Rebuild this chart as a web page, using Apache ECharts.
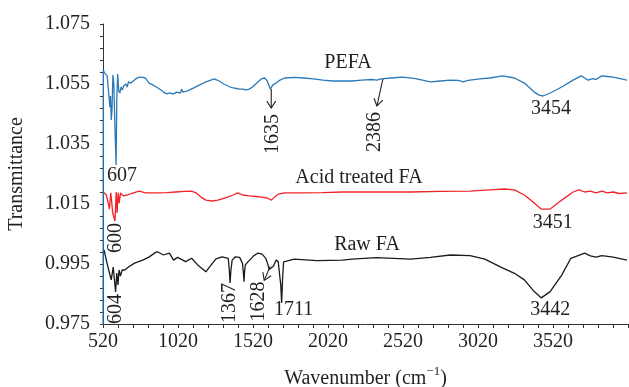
<!DOCTYPE html>
<html>
<head>
<meta charset="utf-8">
<script src="https://cdn.jsdelivr.net/npm/echarts@6/dist/echarts.min.js"></script>
<style>
  html, body { margin: 0; padding: 0; background: #fff; }
  #chart { width: 629px; height: 387px; }
</style>
</head>
<body>
<div id="chart"></div>
<script>
// FTIR spectra: wavenumber (cm^-1) and transmittance for each sample
const pefaWavenumber = [520,522,530,540,548,556,562,566,570,575,580,586,592,600,607,612,618,625,632,641,649,657,673,681,690,706,722,738,762,778,803,827,851,875,883,907,923,947,963,988,1012,1036,1044,1052,1084,1125,1165,1206,1262,1294,1326,1367,1388,1410,1431,1452,1474,1495,1516,1538,1559,1580,1598,1615,1628,1635,1653,1674,1700,1730,1795,1859,1923,1987,2051,2115,2180,2244,2309,2347,2373,2386,2439,2518,2604,2703,2769,2835,2888,2921,2954,3033,3099,3184,3263,3329,3395,3428,3454,3501,3578,3654,3708,3731,3754,3784,3807,3845,3883,3922,3967,4013];
const pefaTransmittance = [0.970,1.0597,1.0587,1.0593,1.0577,1.0530,1.0497,1.0473,1.0510,1.0430,1.0463,1.0580,1.0550,1.0400,1.0280,1.0500,1.0583,1.0527,1.0520,1.0540,1.0530,1.0543,1.0550,1.0540,1.0557,1.0553,1.0560,1.0567,1.0573,1.0573,1.0570,1.0553,1.0547,1.0540,1.0543,1.0530,1.0523,1.0517,1.0520,1.0517,1.0523,1.0520,1.0533,1.0523,1.0527,1.0537,1.0547,1.0557,1.0567,1.0560,1.0550,1.0540,1.0537,1.0535,1.0533,1.0533,1.0530,1.0533,1.0540,1.0550,1.0560,1.0568,1.0570,1.0560,1.0543,1.0533,1.0547,1.0553,1.0563,1.0570,1.0572,1.0570,1.0567,1.0563,1.0560,1.0560,1.0560,1.0563,1.0565,1.0563,1.0567,1.0570,1.0570,1.0573,1.0568,1.0557,1.0560,1.0563,1.0562,1.0557,1.0562,1.0567,1.0570,1.0577,1.0570,1.0553,1.0523,1.0513,1.0510,1.0520,1.0540,1.0563,1.0577,1.0570,1.0563,1.0568,1.0565,1.0577,1.0575,1.0573,1.0568,1.0563];

const acidWavenumber = [520,530,542,552,563,572,585,600,608,614,621,628,637,655,681,722,762,803,856,883,947,1004,1061,1109,1141,1173,1206,1246,1286,1351,1388,1418,1452,1495,1538,1580,1615,1643,1664,1690,1730,1859,1987,2115,2244,2373,2571,2769,2967,3099,3197,3263,3329,3395,3441,3451,3501,3578,3654,3693,3731,3769,3807,3845,3883,3922,3960,4013];
const acidTransmittance = [1.0191,1.0187,1.0180,1.0160,1.0133,1.0187,1.0120,1.0093,1.0190,1.0120,1.0187,1.0153,1.0187,1.0177,1.0180,1.0187,1.0193,1.0187,1.0187,1.0187,1.0188,1.0190,1.0192,1.0193,1.0187,1.0173,1.0163,1.0160,1.0163,1.0173,1.0180,1.0187,1.0180,1.0177,1.0175,1.0173,1.0170,1.0163,1.0173,1.0183,1.0187,1.0187,1.0188,1.0190,1.0190,1.0190,1.0190,1.0192,1.0193,1.0197,1.0200,1.0197,1.0180,1.0153,1.0133,1.0127,1.0133,1.0163,1.0190,1.0197,1.0190,1.0193,1.0187,1.0193,1.0187,1.0190,1.0185,1.0187];

const rawWavenumber = [520,527,542,558,575,588,604,612,620,627,636,648,665,690,730,785,826,866,883,923,963,990,1017,1071,1111,1151,1206,1232,1273,1313,1355,1362,1367,1373,1381,1402,1431,1450,1456,1460,1464,1469,1488,1524,1552,1581,1605,1617,1628,1657,1674,1688,1698,1705,1711,1717,1724,1730,1795,1945,2115,2180,2341,2571,2703,2835,2967,3066,3165,3263,3329,3395,3428,3442,3501,3578,3639,3731,3769,3807,3845,3922,4013];
const rawTransmittance = [0.9987,0.9997,0.9963,0.9930,0.9897,0.9940,0.9857,0.9920,0.9880,0.9930,0.9910,0.9930,0.9930,0.9940,0.9953,0.9963,0.9973,0.9987,0.9991,0.9980,0.9986,0.9963,0.9972,0.9958,0.9969,0.9947,0.9924,0.9941,0.9967,0.9974,0.9969,0.9930,0.9887,0.9930,0.9963,0.9974,0.9972,0.9952,0.9920,0.9891,0.9925,0.9947,0.9958,0.9977,0.9986,0.9983,0.9969,0.9952,0.9932,0.9943,0.9963,0.9958,0.9956,0.9880,0.9820,0.9900,0.9957,0.9963,0.9966,0.9961,0.9963,0.9966,0.9971,0.9966,0.9972,0.9980,0.9978,0.9966,0.9941,0.9919,0.9897,0.9858,0.9843,0.9837,0.9858,0.9913,0.9969,0.9986,0.9977,0.9973,0.9978,0.9973,0.9963];

const seriesNames = ['PEFA', 'Acid treated FA', 'Raw FA'];

// Band positions annotated on each spectrum
const pefaBands = [607, 1635, 2386, 3454];
const acidBands = [600, 3451];
const rawBands = [604, 1367, 1628, 1711, 3442];

const FONT = '"Liberation Serif", "DejaVu Serif", "Times New Roman", serif';
const FS = 20;
const TEXT = '#231f20';
const COLORS = ['#2a7ab9', '#f0242a', '#1a1a1a'];

const chart = echarts.init(document.getElementById('chart'));

function zip(w, t) { return w.map((x, i) => [x, t[i]]); }

const spectra = [
  { name: seriesNames[0], data: zip(pefaWavenumber, pefaTransmittance), bands: pefaBands },
  { name: seriesNames[1], data: zip(acidWavenumber, acidTransmittance), bands: acidBands },
  { name: seriesNames[2], data: zip(rawWavenumber, rawTransmittance), bands: rawBands }
];

chart.setOption({
  animation: false,
  grid: { left: 103, top: 24, width: 525, height: 300, containLabel: false, outerBoundsMode: 'none' },
  xAxis: {
    type: 'value', min: 520, max: 4020, interval: 500,
    name: '{a|Wavenumber (cm}{s|−1}{a|)}',
    nameLocation: 'middle', nameGap: 41,
    nameTextStyle: {
      rich: {
        a: { fontFamily: FONT, fontSize: FS, color: TEXT, lineHeight: 24, verticalAlign: 'bottom' },
        s: { fontFamily: FONT, fontSize: 13, color: TEXT, lineHeight: 24, verticalAlign: 'top' }
      }
    },
    axisLine: { lineStyle: { color: '#333', width: 1 } },
    axisTick: { length: 4, lineStyle: { color: '#333' } },
    minorTick: { show: true, splitNumber: 5, length: 4, lineStyle: { color: '#333' } },
    axisLabel: { margin: 8, fontFamily: FONT, fontSize: FS, color: TEXT, showMaxLabel: false, formatter: v => String(Math.round(v)) },
    splitLine: { show: false }
  },
  yAxis: {
    type: 'value', min: 0.975, max: 1.075, interval: 0.02,
    name: 'Transmittance', nameLocation: 'middle', nameGap: 76,
    nameTextStyle: { fontFamily: FONT, fontSize: FS, color: TEXT },
    axisLine: { show: true, lineStyle: { color: '#333', width: 1 } },
    axisTick: { show: true, length: 3, lineStyle: { color: '#333' } },
    minorTick: { show: true, splitNumber: 5, length: 3, lineStyle: { color: '#333' } },
    axisLabel: { margin: 13, fontFamily: FONT, fontSize: FS, color: TEXT, formatter: v => v.toFixed(3) },
    splitLine: { show: false }
  },
  series: spectra.map((s, i) => ({
    name: s.name, type: 'line', data: s.data, showSymbol: false, symbol: 'none',
    clip: true, lineStyle: { color: COLORS[i], width: 1.3 }, z: 3 - i
  }))
});

// Annotation layout: label offset (dx, dy) from the band minimum, rotation, optional arrow
const bandLayout = {
  'PEFA-607':  { dx: 6, dy: 11, rot: false },
  'PEFA-1635': { dx: 2, dy: 45, rot: true, arrow: [1, 0, 1, 19] },
  'PEFA-2386': { dx: -8, dy: 54, rot: true, arrow: [0, 1, -6, 28] },
  'PEFA-3454': { dx: 8, dy: 13, rot: false },
  'Acid treated FA-600': { dx: 1, dy: 17, rot: true },
  'Acid treated FA-3451': { dx: 10, dy: 12, rot: false },
  'Raw FA-604':  { dx: 0, dy: 17, rot: true },
  'Raw FA-1367': { dx: 0, dy: 20, rot: true },
  'Raw FA-1628': { dx: -10, dy: 32, rot: true, arrow: [1, -3, -5, 11] },
  'Raw FA-1711': { dx: 12, dy: 7, rot: false },
  'Raw FA-3442': { dx: 9, dy: 12, rot: false }
};

const graphics = [];
spectra.forEach(s => {
  s.bands.forEach(b => {
    const pt = s.data.find(d => d[0] === b);
    const p = chart.convertToPixel({ gridIndex: 0 }, pt);
    const lay = bandLayout[s.name + '-' + b];
    graphics.push({
      type: 'text', x: p[0] + lay.dx, y: p[1] + lay.dy,
      rotation: lay.rot ? Math.PI / 2 : 0,
      style: { text: String(b), fontFamily: FONT, fontSize: FS, fill: TEXT, align: 'center', verticalAlign: 'middle' },
      z: 10
    });
    if (lay.arrow) {
      const a = lay.arrow;
      const x0 = p[0] + a[0], y0 = p[1] + a[1], x1 = p[0] + a[2], y1 = p[1] + a[3];
      const len = Math.hypot(x1 - x0, y1 - y0);
      const ux = (x1 - x0) / len, uy = (y1 - y0) / len;
      const head = 7, wing = 4.5;
      graphics.push({
        type: 'polyline', shape: { points: [[x0, y0], [x1, y1]] },
        style: { stroke: TEXT, lineWidth: 1.1, fill: null }, z: 10
      });
      graphics.push({
        type: 'polyline',
        shape: { points: [
          [x1 - ux * head - uy * wing, y1 - uy * head + ux * wing],
          [x1, y1],
          [x1 - ux * head + uy * wing, y1 - uy * head - ux * wing]
        ] },
        style: { stroke: TEXT, lineWidth: 1.1, fill: null }, z: 10
      });
    }
  });
});

// Sample names above each spectrum
const nameSpots = [[348, 63], [359, 178], [367, 245]];
seriesNames.forEach((n, i) => {
  graphics.push({
    type: 'text', x: nameSpots[i][0], y: nameSpots[i][1],
    style: { text: n, fontFamily: FONT, fontSize: FS, fill: TEXT, align: 'center', verticalAlign: 'middle' },
    z: 10
  });
});

chart.setOption({ graphic: graphics });
</script>
</body>
</html>
